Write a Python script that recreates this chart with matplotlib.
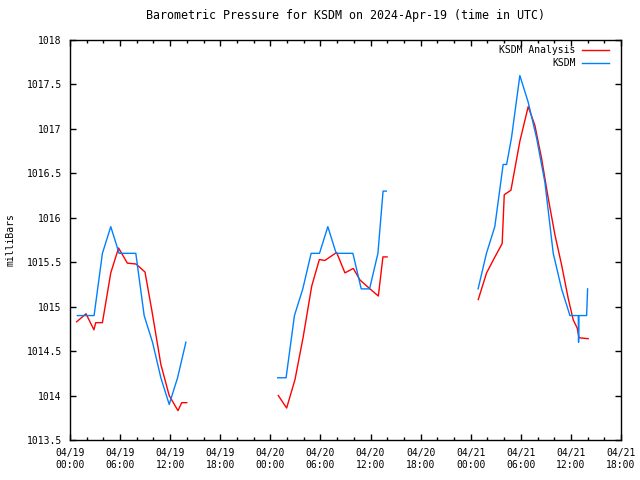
import numpy as np
import matplotlib
matplotlib.use("Agg")
import matplotlib.pyplot as plt
import matplotlib.dates as mdates
from matplotlib.ticker import MultipleLocator

plt.rcParams['font.family'] = ['DejaVu Sans Mono']
plt.rcParams['font.size'] = 7

start = np.datetime64('2024-04-19T00:00')

# hours after 04/19 00:00 UTC, one list per stretch of data
ana_hours = [
    [0.80, 1.92, 2.87, 3.08, 3.88, 4.89, 5.81, 6.86, 7.90, 8.26, 8.98, 9.82,
     10.89, 11.88, 12.93, 13.38, 13.98],
    [24.95, 25.95, 26.95, 27.94, 28.95, 29.86, 30.54, 31.94, 32.93, 33.93,
     34.73, 35.93, 36.93, 37.49, 37.98],
    [48.90, 49.90, 50.90, 51.77, 52.01, 52.81, 53.89, 54.89, 55.69, 56.49,
     57.28, 58.08, 58.89, 59.68, 60.28, 60.75, 60.96, 62.07],
]
ana_mb = [
    [1014.83, 1014.92, 1014.74, 1014.82, 1014.82, 1015.38, 1015.66, 1015.49,
     1015.48, 1015.45, 1015.39, 1014.95, 1014.35, 1014.00, 1013.83, 1013.92,
     1013.92],
    [1014.00, 1013.86, 1014.18, 1014.66, 1015.23, 1015.53, 1015.52, 1015.61,
     1015.38, 1015.43, 1015.30, 1015.20, 1015.12, 1015.56, 1015.56],
    [1015.08, 1015.38, 1015.56, 1015.71, 1016.26, 1016.31, 1016.86, 1017.25,
     1017.04, 1016.67, 1016.22, 1015.81, 1015.47, 1015.09, 1014.85, 1014.76,
     1014.65, 1014.64],
]

obs_hours = [
    [0.88, 1.88, 2.88, 3.88, 4.88, 5.88, 6.88, 7.88, 8.88, 9.88, 10.88,
     11.88, 12.88, 13.88],
    [24.88, 25.88, 26.88, 27.88, 28.88, 29.88, 30.88, 31.88, 32.88, 33.88,
     34.88, 35.88, 36.88, 37.50, 37.88],
    [48.88, 49.88, 50.88, 51.88, 52.30, 52.88, 53.88, 54.88, 55.88, 56.88,
     57.88, 58.88, 59.88, 60.88, 60.92, 60.96, 61.88, 62.00],
]
obs_mb = [
    [1014.9, 1014.9, 1014.9, 1015.6, 1015.9, 1015.6, 1015.6, 1015.6, 1014.9,
     1014.6, 1014.2, 1013.9, 1014.2, 1014.6],
    [1014.2, 1014.2, 1014.9, 1015.2, 1015.6, 1015.6, 1015.9, 1015.6, 1015.6,
     1015.6, 1015.2, 1015.2, 1015.6, 1016.3, 1016.3],
    [1015.2, 1015.6, 1015.9, 1016.6, 1016.6, 1016.9, 1017.6, 1017.3, 1016.9,
     1016.4, 1015.6, 1015.2, 1014.9, 1014.9, 1014.6, 1014.9, 1014.9, 1015.2],
]


def to_time(hours):
    mins = np.round(np.array(hours) * 60).astype(int)
    return start + mins.astype('timedelta64[m]')


fig = plt.figure(figsize=(6.4, 4.8), dpi=100)
ax = fig.add_axes([70 / 640, 40 / 480, 551 / 640, 400 / 480])

for k in range(len(ana_hours)):
    ax.plot(to_time(ana_hours[k]), ana_mb[k], color='#ff0000', lw=1,
            label='KSDM Analysis' if k == 0 else None)
for k in range(len(obs_hours)):
    ax.plot(to_time(obs_hours[k]), obs_mb[k], color='#0080ff', lw=1,
            label='KSDM' if k == 0 else None)

ax.set_xlim(start, start + np.timedelta64(66, 'h'))
ax.set_ylim(1013.5, 1018)
ax.xaxis.set_major_locator(mdates.HourLocator(byhour=[0, 6, 12, 18]))
ax.xaxis.set_minor_locator(mdates.HourLocator(byhour=range(0, 24, 2)))
ax.xaxis.set_major_formatter(mdates.DateFormatter('%m/%d\n%H:%M'))
ax.yaxis.set_major_locator(MultipleLocator(0.5))
ax.yaxis.set_major_formatter(lambda v, p: '%g' % v)

ax.tick_params(which='both', direction='in', top=True, right=True, width=1,
               colors='black')
ax.tick_params(which='major', length=4.5, pad=6)
ax.tick_params(which='minor', length=2.5)
for s in ax.spines.values():
    s.set_linewidth(1)

ax.set_title('Barometric Pressure for KSDM on 2024-Apr-19 (time in UTC)',
             pad=15)
ax.set_ylabel('milliBars', labelpad=8)

ax.legend(loc='upper right', bbox_to_anchor=(0.985, 0.997), frameon=False,
          markerfirst=False, handlelength=2.8, handletextpad=0.6,
          labelspacing=0.35, borderaxespad=0)

fig.savefig('out.png', dpi=100)
